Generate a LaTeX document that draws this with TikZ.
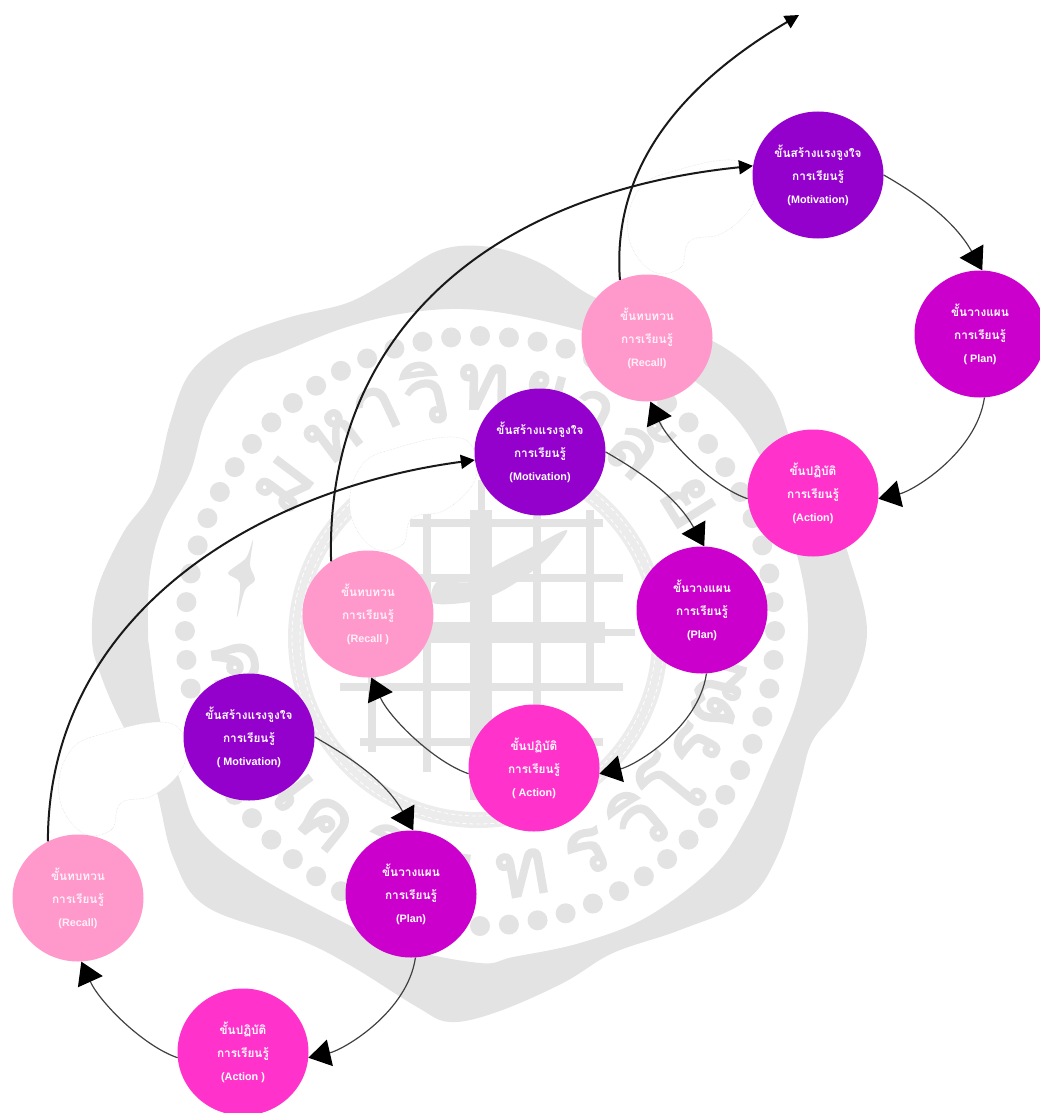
\documentclass[tikz,border=0pt]{standalone}
\usepackage{fontspec}
\usetikzlibrary{shapes.geometric,arrows.meta}
\setmainfont{Liberation Sans}
\newfontfamily\thaifont[Script=Thai]{Loma}
\newfontfamily\wmfont[Script=Thai,FakeBold=3]{Loma}
\definecolor{wmgrey}{HTML}{E3E3E3}
\definecolor{ropegrey}{HTML}{ECECEC}
\definecolor{cMot}{HTML}{9400CC}
\definecolor{cPlan}{HTML}{CC00CC}
\definecolor{cAct}{HTML}{FF33CC}
\definecolor{cRec}{HTML}{FF99CC}
\newcommand{\stagetext}[2]{{\thaifont\bfseries #1}\\{\thaifont\bfseries การเรียนรู้}\\{\fontsize{10.8}{23}\selectfont\bfseries #2}}
\tikzset{
  stage/.style={ellipse,minimum width=131pt,minimum height=127pt,inner sep=0pt,text=white,align=center,
     font=\fontsize{11.8}{23}\selectfont},
  mot/.style={stage,fill=cMot},
  planstage/.style={stage,fill=cPlan},
  act/.style={stage,fill=cAct},
  rec/.style={stage,fill=cRec,text=white!85!cRec},
  thin arc/.style={line width=1.2pt,draw=black!75,-{Triangle[length=22pt,width=27pt,color=black]}},
  long arc/.style={line width=2pt,draw=black!90,-{Triangle[length=14pt,width=14pt,color=black]}},
  wmline/.style={draw=wmgrey,line width=#1},
  blob/.style={fill=white,draw=black!14,densely dotted,line width=.5pt},
  wmglyph/.style={text=wmgrey,inner sep=0pt,font=\fontsize{78}{78}\selectfont\wmfont},
}
\begin{document}
\begin{tikzpicture}[x=1pt,y=-1pt]
\useasboundingbox (0,0) rectangle (1040,1113);
% --- watermark seal ---
\fill[wmgrey,even odd rule]
  plot[smooth cycle,tension=.6] coordinates {(440,250)(490,247)(540,263)(590,295)(640,315)(720,345)(770,390)(795,450)(830,510)(850,560)(867,633)(847,697)(813,740)(800,783)(780,850)(747,900)(680,930)(613,953)(563,983)(497,1012)(450,1022)(417,1007)(353,967)(300,940)(207,907)(173,857)(153,780)(120,720)(100,673)(92,640)(97,590)(123,533)(153,490)(170,423)(190,373)(230,340)(287,318)(347,303)(390,280)}
  plot[smooth cycle,tension=.6] coordinates {(480,310)(560,325)(640,350)(700,385)(745,430)(775,490)(800,567)(808,633)(797,700)(770,767)(747,817)(713,867)(647,917)(580,943)(513,957)(480,963)(400,947)(333,917)(253,873)(200,830)(180,780)(160,720)(150,653)(148,630)(150,573)(163,523)(190,473)(207,417)(240,370)(280,353)(347,327)(413,312)};
% dots ring
\foreach \i in {0,...,63}{\fill[wmgrey] ({480+295*cos(\i*5.625)},{631+295*sin(\i*5.625)}) circle (10pt);}
% rope ring
\draw[draw=ropegrey,line width=16pt] (478,638) circle (182pt);
\draw[white,line width=.8pt,dash pattern=on 4pt off 3pt] (478,638) circle (178pt);
\draw[white,line width=.8pt,dash pattern=on 4pt off 3pt] (478,638) circle (186pt);
% Thai lettering of the seal
\foreach \g/\a [count=\n] in {ม/143,ห/127,า/115,วิ/103,ท/89,ย/75,า/63,ลั/50,ย/32}{
  \node[wmglyph,rotate=\a-90] (wmu\n) at ({480+245*cos(\a)},{632-245*sin(\a)}) {\g};
}
\foreach \g/\a [count=\n] in {ศ/188,รี/203,น/217,ค/231,ริ/247,น/263,ท/280,ร/296,วิ/310,โ/321,ร/332,ฒ/346}{
  \node[wmglyph,rotate=\a-270] (wml\n) at ({480+245*cos(\a)},{632-245*sin(\a)}) {\g};
}
% flame ornament
\fill[wmgrey] plot[smooth cycle,tension=.5] coordinates {(253,540)(246,558)(228,573)(240,583)(237,617)(245,590)(255,580)(250,565)};
% grid of the seal
\foreach \xa/\ya/\yb/\w in {372/650/752/8,427/510/772/8,481/510/800/22,481/480/510/7,537/490/790/8,590/510/690/8}{
  \draw[wmline=\w pt] (\xa,\ya) -- (\xa,\yb);
}
\foreach \ya/\xa/\xb/\w in {523/410/603/8,578/390/623/8,632/430/605/21,632/600/635/7,687/340/623/8,742/360/603/8}{
  \draw[wmline=\w pt] (\xa,\ya) -- (\xb,\ya);
}
\fill[wmgrey] plot[smooth cycle,tension=.5] coordinates {(437,582)(470,582)(493,567)(530,548)(567,530)(550,555)(530,573)(500,592)(470,602)(433,603)};
% white ribbons between the cycles
\foreach \dx/\dy in {278/-277,0/0,-291/285}{
  \draw[blob,shift={(\dx pt,-\dy pt)}] plot[smooth cycle,tension=.7] coordinates {(474,450)(452,437)(400,447)(362,465)(350,510)(372,547)(402,545)(412,518)(445,510)(474,482)};
}
% --- stages ---
\node[mot] (M1) at (818,175) {\stagetext{ขั้นสร้างแรงจูงใจ}{(Motivation)}};
\node[planstage] (P1) at (980,334) {\stagetext{ขั้นวางแผน}{( Plan)}};
\node[act] (A1) at (813,493) {\stagetext{ขั้นปฏิบัติ}{(Action)}};
\node[rec] (R1) at (647,338) {\stagetext{ขั้นทบทวน}{(Recall)}};
\node[mot] (M2) at (540,452) {\stagetext{ขั้นสร้างแรงจูงใจ}{(Motivation)}};
\node[planstage] (P2) at (702,610) {\stagetext{ขั้นวางแผน}{(Plan)}};
\node[act] (A2) at (534,768) {\stagetext{ขั้นปฏิบัติ}{( Action)}};
\node[rec] (R2) at (368,614) {\stagetext{ขั้นทบทวน}{(Recall )}};
\node[mot] (M3) at (249,737) {\stagetext{ขั้นสร้างแรงจูงใจ}{( Motivation)}};
\node[planstage] (P3) at (411,894) {\stagetext{ขั้นวางแผน}{(Plan)}};
\node[act] (A3) at (243,1052) {\stagetext{ขั้นปฏิบัติ}{(Action )}};
\node[rec] (R3) at (78,898) {\stagetext{ขั้นทบทวน}{(Recall)}};
\coordinate (exit) at (799,15);
% --- connectors inside each cycle ---
\foreach \c in {1,2,3}{
  \draw[thin arc] (M\c.0) .. controls +(35,20) and +(-28,-50) .. (P\c.88);
  \draw[thin arc] (P\c.-86) .. controls +(-8,55) and +(35,-8) .. (A\c.-5);
  \draw[thin arc] (A\c.185) .. controls +(-35,-12) and +(18,40) .. (R\c.-87);
}
% --- connectors between cycles ---
\draw[long arc] (R3.118) .. controls (48,620) and (250,490) .. (M2.187);
\draw[long arc] (R2.125) .. controls (325,350) and (470,195) .. (M1.172);
\draw[long arc] (R1.115) .. controls (612,175) and (672,90) .. (exit);
\end{tikzpicture}
\end{document}
